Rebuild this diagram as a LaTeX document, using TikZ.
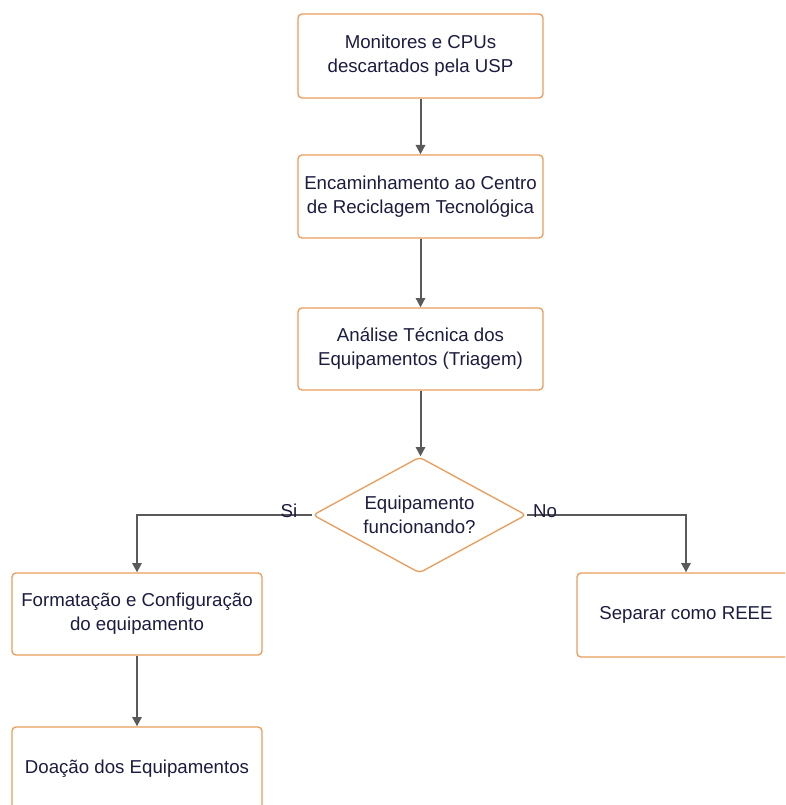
\documentclass[tikz,border=0pt]{standalone}
\usepackage{fontspec}
\setmainfont{Liberation Sans}
\usepackage{xcolor}
\usetikzlibrary{shapes.geometric,arrows.meta,positioning,calc}

\definecolor{boxline}{RGB}{232,158,92}
\definecolor{boxtext}{RGB}{28,28,64}
\definecolor{arrowgray}{RGB}{90,90,90}

\tikzset{
    flowbox/.style={draw=boxline, line width=1pt, rounded corners=3pt, fill=white,
        text=boxtext, align=center, inner sep=0pt,
        font=\fontsize{14}{18}\selectfont},
    decision/.style={diamond, draw=boxline, line width=1pt, rounded corners=3pt, fill=white,
        text=boxtext, align=center, inner sep=0pt, aspect=1.82,
        minimum width=160pt, minimum height=87pt,
        font=\fontsize{14}{18}\selectfont},
    flow/.style={draw=arrowgray, line width=1.5pt, -{Triangle[width=7pt,length=7pt]}},
    answer/.style={text=boxtext, font=\fontsize{14}{16}\selectfont, inner sep=0pt}
}

\begin{document}
\begin{tikzpicture}[x=0.75pt, y=-0.75pt]
    \clip (0,0) rectangle (785,805);
    \fill[white] (0,0) rectangle (785,805);

    % Main column
    \node[flowbox, minimum width=183.75pt, minimum height=63pt] (monitores) at (420.5,56)
        {Monitores e CPUs\\descartados pela USP};
    \node[flowbox, minimum width=183.75pt, minimum height=62.25pt] (encaminha) at (420.5,196.5)
        {Encaminhamento ao Centro\\de Reciclagem Tecnológica};
    \node[flowbox, minimum width=183.75pt, minimum height=61.5pt] (analise) at (420.5,349)
        {Análise Técnica dos\\Equipamentos (Triagem)};
    \node[decision] (funciona) at (419.5,515) {Equipamento\\funcionando?};

    % Branches
    \node[flowbox, minimum width=187.5pt, minimum height=61.5pt] (formata) at (137,614)
        {Formatação e Configuração\\do equipamento};
    \node[flowbox, minimum width=163.5pt, minimum height=63pt] (separa) at (686,615)
        {Separar como REEE};
    \node[flowbox, minimum width=187.5pt, minimum height=62.25pt] (doacao) at (137,768.5)
        {Doação dos Equipamentos};

    % Connectors
    \draw[flow] (monitores) -- (encaminha);
    \draw[flow] (encaminha) -- (analise);
    \draw[flow] (analise.south) -- (analise.south |- funciona.north);
    \draw[flow] (funciona.west) -| (formata.north);
    \draw[flow] (funciona.east) -| (separa.north);
    \draw[flow] (formata) -- (doacao);

    % Answers
    \node[answer] (si) at (289,511) {Si};
    \node[answer] (no) at (545,511) {No};
\end{tikzpicture}
\end{document}
